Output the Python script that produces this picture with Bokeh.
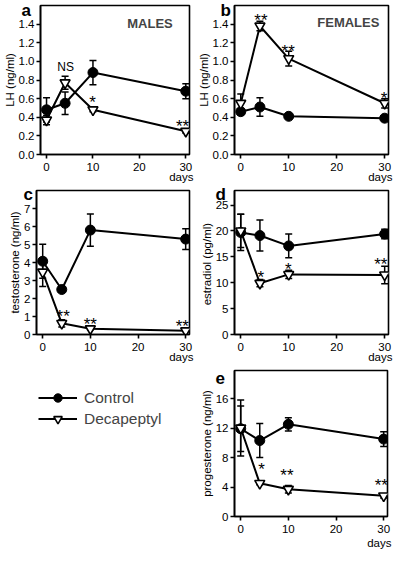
from bokeh.plotting import figure
from bokeh.models import (Range1d, FixedTicker, Title, ColumnDataSource, Legend,
                          LegendItem, NumeralTickFormatter, Label)
from bokeh.layouts import column, row
from bokeh.embed import file_html
from bokeh.resources import INLINE
from bokeh.core.properties import value

FONT = "Liberation Sans"

days = [0, 4, 10, 30]
x_ticks = [0, 10, 20, 30]

# a: LH males (ng/ml)
lh_m_ctrl = [0.48, 0.55, 0.88, 0.68]
lh_m_ctrl_err = [0.13, 0.12, 0.13, 0.08]
lh_m_deca = [0.37, 0.77, 0.48, 0.25]
lh_m_deca_err = [0.05, 0.07, 0.02, 0.02]
lh_m_sig_x = [9.9, 29.3]
lh_m_sig_y = [0.61, 0.35]
lh_m_sig = ["*", "**"]
lh_m_ns_x = [4.1]
lh_m_ns_y = [0.935]
lh_m_ns = ["NS"]
lh_ticks = [0.0, 0.2, 0.4, 0.6, 0.8, 1.0, 1.2, 1.4]

# b: LH females (ng/ml)
lh_f_ctrl = [0.46, 0.51, 0.41, 0.39]
lh_f_ctrl_err = [0.03, 0.10, 0.02, 0.02]
lh_f_deca = [0.55, 1.38, 1.03, 0.55]
lh_f_deca_err = [0.10, 0.05, 0.08, 0.05]
lh_f_sig_x = [4.2, 9.9, 29.9]
lh_f_sig_y = [1.49, 1.155, 0.65]
lh_f_sig = ["**", "**", "*"]

# c: testosterone (ng/ml)
te_ctrl = [4.07, 2.5, 5.8, 5.3]
te_ctrl_err = [0.95, 0.15, 0.9, 0.58]
te_deca = [3.47, 0.62, 0.32, 0.21]
te_deca_err = [0.8, 0.2, 0.05, 0.05]
te_sig_x = [4.3, 10.0, 29.3]
te_sig_y = [1.29, 0.85, 0.71]
te_sig = ["**", "**", "**"]
te_ticks = [0, 1, 2, 3, 4, 5, 6, 7]

# d: estradiol (pg/ml)
es_ctrl = [19.7, 19.1, 17.1, 19.4]
es_ctrl_err = [3.5, 3.0, 2.3, 0.9]
es_deca = [20.0, 9.9, 11.6, 11.5]
es_deca_err = [3.2, 0.7, 0.8, 1.7]
es_sig_x = [4.2, 9.9, 29.2]
es_sig_y = [11.9, 13.6, 14.5]
es_sig = ["*", "*", "**"]
es_ticks = [0, 5, 10, 15, 20, 25]

# e: progesterone (ng/ml)
pr_ctrl = [11.9, 10.3, 12.5, 10.5]
pr_ctrl_err = [3.1, 2.3, 0.9, 1.0]
pr_deca = [12.0, 4.5, 3.7, 2.8]
pr_deca_err = [3.8, 0.2, 0.5, 0.3]
pr_sig_x = [4.4, 9.7, 29.5]
pr_sig_y = [7.06, 6.2, 4.9]
pr_sig = ["*", "**", "**"]
pr_ticks = [0, 4, 8, 12, 16]

series_names = ["Control", "Decapeptyl"]


def errsrc(vals, errs):
    return ColumnDataSource(dict(
        x=days, y=vals,
        lo=[v - e for v, e in zip(vals, errs)],
        hi=[v + e for v, e in zip(vals, errs)]))


def panel(w, h, mbl, mbr, mbt, mbb, y_end, yticks, yfmt, ylabel,
          ctrl, ctrl_err, deca, deca_err, sx, sy, st, letter, l_off, l_stand,
          d_off, d_stand):
    p = figure(width=w, height=h,
               x_range=Range1d(-1.3, 30.8), y_range=Range1d(0, y_end),
               output_backend="svg", toolbar_location=None,
               min_border_left=mbl, min_border_right=mbr,
               min_border_top=mbt, min_border_bottom=mbb)
    p.grid.visible = False
    p.outline_line_color = "black"
    p.outline_line_width = 1.6
    for ax in (p.xaxis[0], p.yaxis[0]):
        ax.axis_line_width = 1.6
        ax.major_tick_line_width = 1.6
        ax.major_tick_in = 0
        ax.major_tick_out = 4
        ax.minor_tick_line_color = None
        ax.major_label_text_font = FONT
        ax.major_label_text_font_size = "11.5px"
        ax.major_label_text_color = "black"
        ax.axis_label_text_font = FONT
        ax.axis_label_text_font_size = "11.5px"
        ax.axis_label_text_font_style = "normal"
        ax.axis_label_text_color = "black"
    p.xaxis.ticker = FixedTicker(ticks=x_ticks)
    p.xaxis.major_label_standoff = 4
    p.yaxis.ticker = FixedTicker(ticks=yticks)
    p.yaxis.formatter = NumeralTickFormatter(format=yfmt)
    p.yaxis.major_label_standoff = 2
    p.yaxis.axis_label = ylabel
    p.yaxis.axis_label_standoff = 0

    for vals, errs in ((ctrl, ctrl_err), (deca, deca_err)):
        s = errsrc(vals, errs)
        p.segment(x0="x", y0="lo", x1="x", y1="hi", source=s,
                  line_color="black", line_width=1.5)
        p.scatter(x="x", y="hi", source=s, marker="dash", size=7,
                  line_color="black", line_width=1.5)
        p.scatter(x="x", y="lo", source=s, marker="dash", size=7,
                  line_color="black", line_width=1.5)
    p.line(days, ctrl, line_color="black", line_width=2)
    p.line(days, deca, line_color="black", line_width=2)
    p.scatter(days, ctrl, marker="circle", size=10, fill_color="black",
              line_color="black")
    p.scatter(days, deca, marker="inverted_triangle", size=10,
              fill_color="white", line_color="black", line_width=1.6)
    p.text(x=sx, y=sy, text=st, text_font=value(FONT), text_font_size="17px",
           text_align="center", text_baseline="middle", y_offset=5,
           text_color="black")
    # panel letter (title above, pulled down beside the frame)
    p.title.text = letter
    p.title.align = "left"
    p.title.vertical_align = "bottom"
    p.title.offset = l_off
    p.title.standoff = l_stand
    p.title.text_font = FONT
    p.title.text_font_size = "17px"
    p.title.text_font_style = "bold"
    p.title.text_color = "black"
    # "days" under the last tick
    p.add_layout(Title(text="days", align="right", vertical_align="top",
                       offset=d_off, standoff=d_stand, text_font=FONT,
                       text_font_size="11.5px", text_font_style="normal",
                       text_color="black"), "below")
    return p


pa = panel(194, 184, 36, 5, 5, 30, 1.6, lh_ticks, "0.0", "LH (ng/ml)",
           lh_m_ctrl, lh_m_ctrl_err, lh_m_deca, lh_m_deca_err,
           lh_m_sig_x, lh_m_sig_y, lh_m_sig, "a", -19, -28, -4, -6)
pa.text(x=lh_m_ns_x, y=lh_m_ns_y, text=lh_m_ns, text_font=value(FONT),
        text_font_size="12px", text_align="center", text_baseline="middle",
        text_color="black")
pa.add_layout(Label(x=27.2, y=1.41, text="MALES", text_font=FONT,
                    text_font_size="13px", text_font_style="bold",
                    text_align="right", text_baseline="alphabetic"))

pb = panel(200, 184, 37, 6, 5, 30, 1.6, lh_ticks, "0.0", "LH (ng/ml)",
           lh_f_ctrl, lh_f_ctrl_err, lh_f_deca, lh_f_deca_err,
           lh_f_sig_x, lh_f_sig_y, lh_f_sig, "b", -14, -28, -4, -6)
pb.add_layout(Label(x=28.9, y=1.42, text="FEMALES", text_font=FONT,
                    text_font_size="13px", text_font_style="bold",
                    text_align="right", text_baseline="alphabetic"))

pc = panel(194, 180, 36, 5, 6, 30, 8, te_ticks, "0", "testosterone (ng/ml)",
           te_ctrl, te_ctrl_err, te_deca, te_deca_err,
           te_sig_x, te_sig_y, te_sig, "c", -13, -26, -4, -6)

pd = panel(200, 180, 40, 6, 6, 30, 27.8, es_ticks, "0", "estradiol  (pg/ml)",
           es_ctrl, es_ctrl_err, es_deca, es_deca_err,
           es_sig_x, es_sig_y, es_sig, "d", -19, -26, -4, -6)

pe = panel(200, 190, 40, 7, 6, 38, 19.8, pr_ticks, "0", "progesterone (ng/ml)",
           pr_ctrl, pr_ctrl_err, pr_deca, pr_deca_err,
           pr_sig_x, pr_sig_y, pr_sig, "e", -19, -26, -4, 2)

# legend figure: same top/bottom borders as panel e so the row stays aligned
leg = figure(width=194, height=190, output_backend="svg", toolbar_location=None,
             min_border_left=21, min_border_top=6, min_border_right=0,
             min_border_bottom=38, x_axis_location=None, y_axis_location=None,
             x_range=Range1d(100, 101), y_range=Range1d(100, 101))
leg.grid.visible = False
leg.outline_line_color = None
l1 = leg.line(days, te_ctrl, line_color="black", line_width=2)
s1 = leg.scatter(days, te_ctrl, marker="circle", size=10, fill_color="black",
                 line_color="black")
l2 = leg.line(days, te_deca, line_color="black", line_width=2)
s2 = leg.scatter(days, te_deca, marker="inverted_triangle", size=10,
                 fill_color="white", line_color="black", line_width=1.6)
legend = Legend(items=[LegendItem(label=series_names[0], renderers=[l1, s1]),
                       LegendItem(label=series_names[1], renderers=[l2, s2])],
                location="top_left", orientation="vertical", padding=0, margin=17,
                spacing=0, glyph_width=39, glyph_height=21, label_height=21,
                label_standoff=7, label_text_font=FONT,
                label_text_font_size="15.5px", border_line_color=None,
                background_fill_alpha=0)
leg.add_layout(legend)

layout = column(row(pa, pb), row(pc, pd), row(leg, pe))

open("out.html", "w").write(file_html(layout, INLINE))
